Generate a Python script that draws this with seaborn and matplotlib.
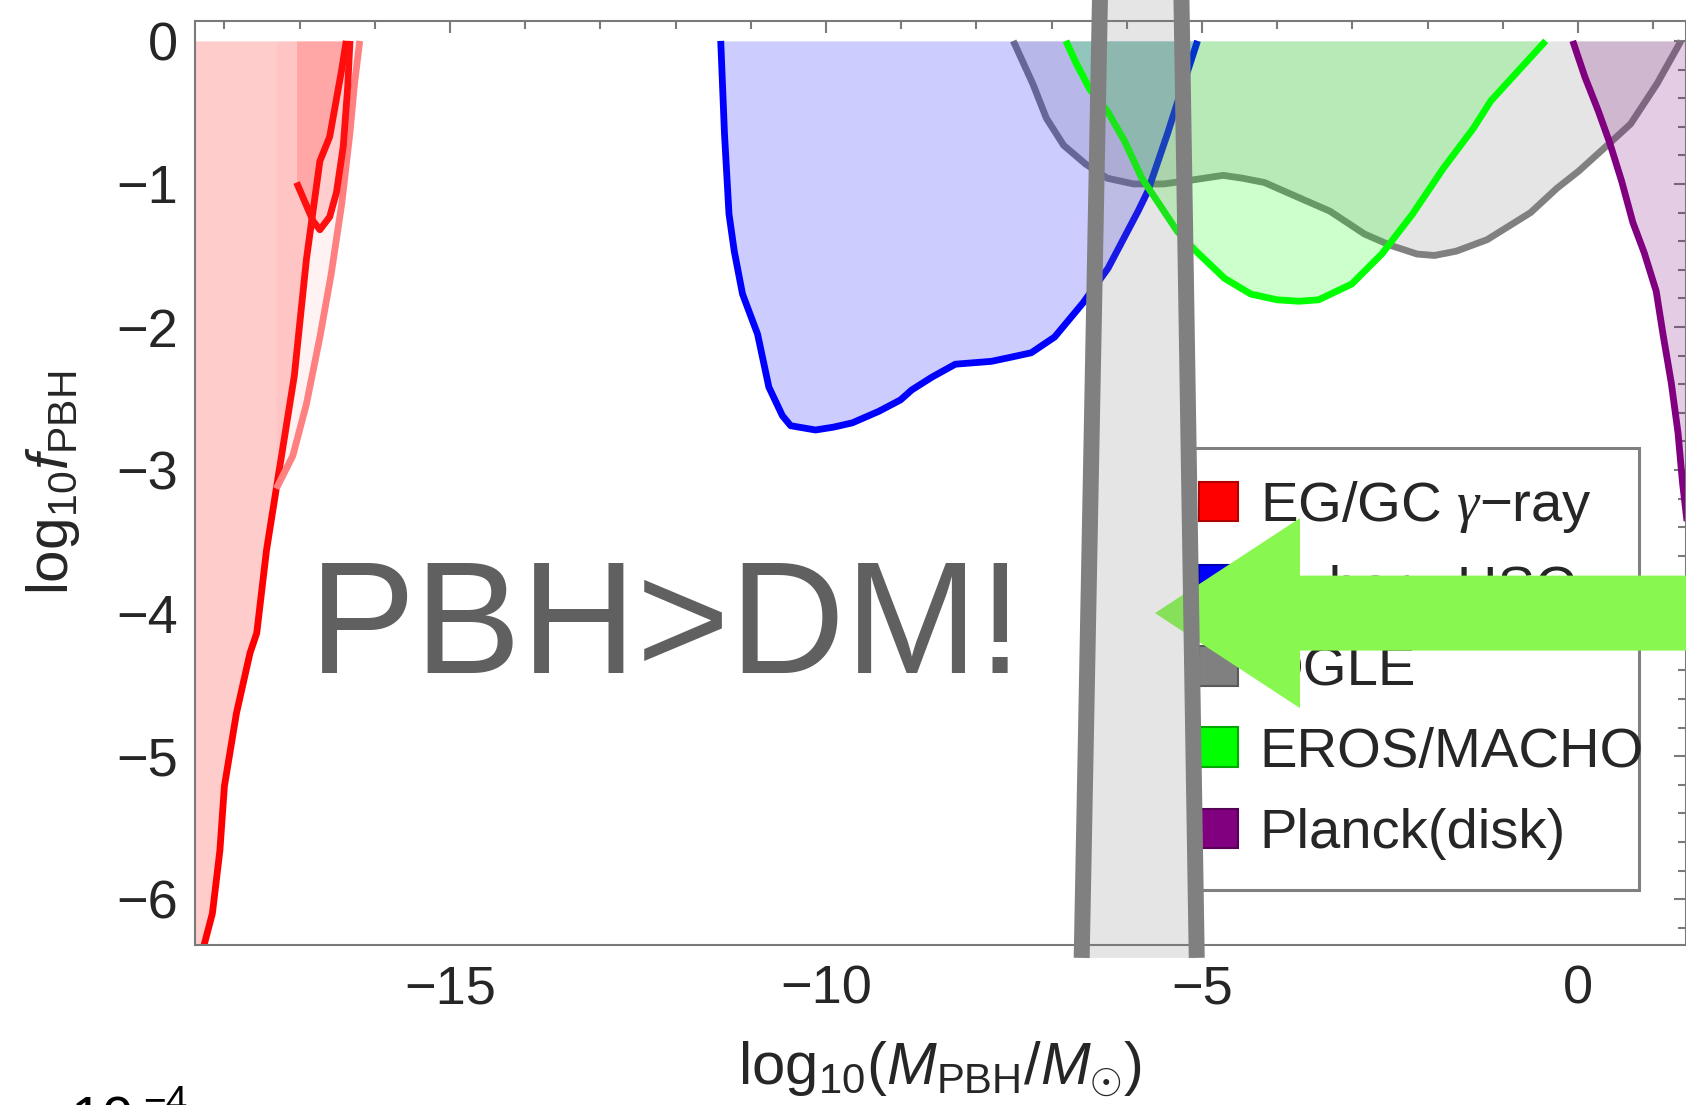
import seaborn as sns
import matplotlib.pyplot as plt
from matplotlib.patches import Patch, Rectangle, FancyArrow, Polygon
from matplotlib.ticker import MultipleLocator

# log10(M/Msun) vs log10 f_PBH

# EG/GC gamma-ray: main bound, a second hooked bound and a faint one
red_main_x = [-18.29, -18.16, -18.06, -18.00, -17.84, -17.66, -17.57, -17.44, -17.31,
              -17.07, -16.91, -16.84, -16.73, -16.60, -16.44, -16.38]
red_main_y = [-6.36, -6.10, -5.66, -5.21, -4.70, -4.28, -4.14, -3.56, -3.13,
              -2.34, -1.53, -1.26, -0.84, -0.67, -0.20, 0.00]
red_hook_x = [-17.04, -16.82, -16.73, -16.60, -16.51, -16.42, -16.36, -16.33]
red_hook_y = [-0.99, -1.26, -1.32, -1.23, -1.06, -0.74, -0.32, 0.00]
red_faint_x = [-17.31, -17.09, -16.91, -16.73, -16.58, -16.44, -16.33, -16.27, -16.20]
red_faint_y = [-3.13, -2.90, -2.54, -2.07, -1.63, -1.14, -0.64, -0.30, 0.00]

# Subaru HSC
hsc_x = [-11.40, -11.35, -11.29, -11.22, -11.11, -10.91, -10.76, -10.58, -10.47, -10.14,
         -9.90, -9.65, -9.30, -9.01, -8.86, -8.59, -8.28, -7.80, -7.53, -7.27,
         -6.96, -6.58, -6.25, -5.85, -5.72, -5.46, -5.32, -5.06]
hsc_y = [0.00, -0.65, -1.21, -1.47, -1.77, -2.05, -2.42, -2.62, -2.69, -2.72,
         -2.70, -2.67, -2.59, -2.51, -2.44, -2.35, -2.26, -2.24, -2.21, -2.18,
         -2.07, -1.83, -1.59, -1.19, -1.05, -0.65, -0.42, 0.00]

# OGLE
ogle_x = [-7.51, -7.25, -7.07, -6.84, -6.55, -6.26, -5.91, -5.51, -5.10, -4.72, -4.46,
          -4.17, -3.65, -3.30, -2.84, -2.49, -2.14, -1.91, -1.62, -1.21, -0.63, -0.28,
          0.01, 0.41, 0.70, 1.05, 1.37]
ogle_y = [0.00, -0.30, -0.54, -0.73, -0.86, -0.96, -1.00, -1.00, -0.97, -0.94, -0.96,
          -0.99, -1.11, -1.19, -1.35, -1.43, -1.49, -1.50, -1.47, -1.39, -1.20, -1.03,
          -0.91, -0.72, -0.58, -0.30, 0.00]

# EROS/MACHO
eros_x = [-6.81, -6.67, -6.49, -6.26, -6.03, -5.80, -5.57, -5.33, -5.10, -4.98, -4.70,
          -4.35, -4.00, -3.71, -3.45, -3.01, -2.61, -2.20, -1.79, -1.39, -1.16, -0.90, -0.43]
eros_y = [0.00, -0.16, -0.34, -0.49, -0.70, -0.96, -1.14, -1.33, -1.46, -1.52, -1.66,
          -1.77, -1.81, -1.82, -1.81, -1.70, -1.49, -1.21, -0.89, -0.61, -0.42, -0.27, 0.00]

# Planck (disk)
planck_x = [-0.07, 0.09, 0.27, 0.42, 0.58, 0.73, 0.88, 1.04, 1.13, 1.24, 1.33, 1.39, 1.47]
planck_y = [0.00, -0.25, -0.49, -0.71, -0.98, -1.27, -1.48, -1.75, -2.05, -2.39, -2.74, -3.09, -3.45]

legend_labels = ["EG/GC $\\mathcal{\\gamma}$\u2212ray", "Subaru HSC", "OGLE", "EROS/MACHO", "Planck(disk)"]
legend_faces = ["#ff0000", "#0000ff", "#808080", "#00ff00", "#800080"]
legend_edges = ["#b00000", "#0000b0", "#5a5a5a", "#00a800", "#560056"]

sns.set_theme(style="white")
plt.rcParams['font.family'] = ['Liberation Sans', 'DejaVu Sans']
plt.rcParams['mathtext.fontset'] = 'custom'
plt.rcParams['mathtext.rm'] = 'Liberation Sans'
plt.rcParams['mathtext.it'] = 'Liberation Sans:italic'
plt.rcParams['mathtext.bf'] = 'Liberation Sans:bold'
plt.rcParams['mathtext.cal'] = 'Liberation Serif:italic'
plt.rcParams['axes.unicode_minus'] = True

fig = plt.figure(figsize=(16.86, 11.05), dpi=100)
ax = fig.add_axes([0.1157, 0.1448, 0.8843, 0.8358])

LW = 4.9


def bound(x, y, color, z, fill_alpha=0.2, side=None):
    if side == 'left':
        ax.fill_betweenx(y, -19.5, x, color=color, alpha=fill_alpha, linewidth=0, zorder=z)
    elif side == 'right':
        ax.fill_betweenx(y, x, 3.0, color=color, alpha=fill_alpha, linewidth=0, zorder=z)
    else:
        ax.fill_between(x, y, 0, color=color, alpha=fill_alpha, linewidth=0, zorder=z)
    sns.lineplot(x=x, y=y, sort=False, estimator=None, color=color, linewidth=LW,
                 ax=ax, zorder=z + 0.05, solid_capstyle='butt', legend=False)


bound(red_main_x, red_main_y, "#ff0000", 1.0, side='left')
bound(red_faint_x, red_faint_y, "#ff8080", 1.1, fill_alpha=0.1)
bound(red_hook_x, red_hook_y, "#ff1010", 1.2, fill_alpha=0.16)
bound(ogle_x, ogle_y, "#808080", 1.3)
bound(hsc_x, hsc_y, "#0000ff", 1.4)
bound(eros_x, eros_y, "#00ff00", 1.5)
bound(planck_x, planck_y, "#800080", 1.6, side='right')

ax.set_xlim(-18.39, 1.436)
ax.set_ylim(-6.32, 0.136)

ax.text(-16.875, -4.42, "PBH>DM!", fontsize=115, color="#606060",
        ha='left', va='baseline', zorder=3)

# legend with its own box (text sits close to the right border)
ax.add_patch(Rectangle((0.7070, 0.1946), 0.2651, 0.400, transform=fig.transFigure,
                       facecolor='white', edgecolor='#808080', linewidth=2.2,
                       zorder=4, clip_on=False))
handles = [Patch(facecolor=f, edgecolor=e, linewidth=1.5)
           for f, e in zip(legend_faces, legend_edges)]
leg = ax.legend(handles, legend_labels, loc='upper left',
                bbox_to_anchor=(1199 / 1686, 1 - 479 / 1105), bbox_transform=fig.transFigure,
                frameon=False, fontsize=40.5, handlelength=0.7, handleheight=0.7,
                handletextpad=0.38, labelspacing=0.52, borderpad=0, borderaxespad=0)
leg.set_zorder(5)

# big arrow pointing at the band
ax.add_patch(FancyArrow(3.0, -4.0, -8.625, 0, width=0.524, head_width=1.329,
                        head_length=1.928, length_includes_head=True,
                        color='#88f850', linewidth=0, zorder=6))

# grey band drawn on top of everything
band_top, band_bot = 0.35, -6.41
band_left = (-6.355, -6.60)
band_right = (-5.275, -5.07)
ax.add_patch(Polygon([(band_left[0], band_top), (band_right[0], band_top),
                      (band_right[1], band_bot), (band_left[1], band_bot)],
                     closed=True, facecolor='#808080', alpha=0.2, linewidth=0,
                     zorder=7, clip_on=False))
for bx in (band_left, band_right):
    ax.plot([bx[0], bx[1]], [band_top, band_bot], color='#808080', linewidth=11.5,
            solid_capstyle='butt', zorder=8, clip_on=False)

ax.xaxis.set_major_locator(MultipleLocator(5))
ax.xaxis.set_minor_locator(MultipleLocator(1))
ax.yaxis.set_major_locator(MultipleLocator(1))
ax.yaxis.set_minor_locator(MultipleLocator(0.2))
ax.tick_params(which='both', direction='in', top=True, right=True,
               color='#7a7a7a', width=1.5)
ax.tick_params(which='major', length=8.6)
ax.tick_params(which='minor', length=5.6)
ax.tick_params(axis='x', labelsize=39, pad=14)
ax.tick_params(axis='y', labelsize=39, pad=12)
for sp in ax.spines.values():
    sp.set_color('#7a7a7a')
    sp.set_linewidth(1.5)

ax.set_xlabel(r"log$_{10}(M_{\rm PBH}/M_{\odot})$", fontsize=43)
ax.set_ylabel(r"log$_{10}f_{\rm PBH}$", fontsize=42)
ax.xaxis.set_label_coords(0.5, -0.103)
ax.yaxis.set_label_coords(-0.076, 0.5)

# cut-off text at the bottom edge
fig.text(71 / 1686, (1105 - 1137) / 1105, "10", fontsize=41, color='black')
fig.text(143 / 1686, (1105 - 1113) / 1105, "\u22124", fontsize=28, color='black')

fig.savefig("out.png", dpi=100)
